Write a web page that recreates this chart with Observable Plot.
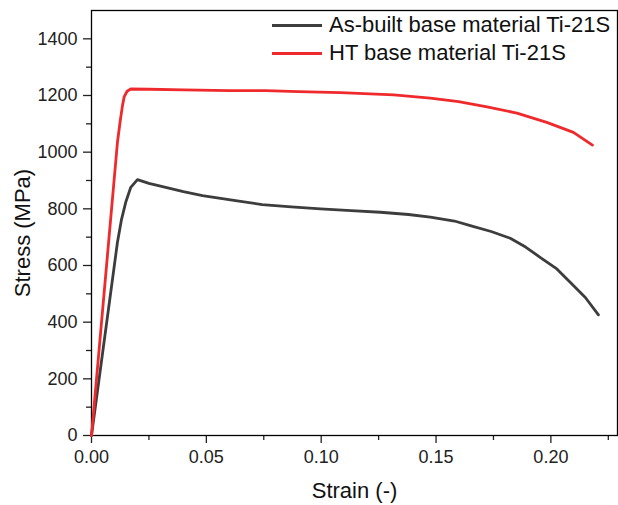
<!DOCTYPE html>
<html><head><meta charset="utf-8">
<script src="https://cdn.jsdelivr.net/npm/d3@7"></script>
<script src="https://cdn.jsdelivr.net/npm/@observablehq/plot@0.6"></script>
<style>
body{margin:0;background:#fff;}
#wrap{position:relative;width:618px;height:505px;font-family:"Liberation Sans",Arial,sans-serif;}
.leg{position:absolute;left:272px;height:28px;display:flex;align-items:center;font-size:22px;color:#111;white-space:nowrap;}
.leg span.sw{display:inline-block;width:50px;height:3px;margin-right:7px;}
</style></head><body><div id="wrap"></div>
<script>
const seriesNames = ["As-built base material Ti-21S", "HT base material Ti-21S"];
const seriesColors = ["#3d3d3d", "#ee2a2d"];

const asBuiltStrain = [0, 0.0113, 0.0130, 0.0149, 0.0171, 0.0200, 0.0250, 0.0323, 0.0400, 0.0483, 0.0627, 0.0743, 0.0870, 0.0997, 0.1130, 0.1258, 0.1380, 0.1475, 0.1580, 0.1649, 0.1740, 0.1823, 0.1890, 0.1953, 0.2026, 0.2084, 0.2150, 0.2207];
const asBuiltStress = [0, 682, 760, 823, 876, 903, 890, 876, 861, 847, 829, 815, 807, 800, 794, 788, 780, 771, 757, 741, 720, 696, 665, 629, 588, 541, 487, 426];

const htStrain = [0, 0.0113, 0.0125, 0.0135, 0.0142, 0.0155, 0.0171, 0.0250, 0.0400, 0.0600, 0.0758, 0.0900, 0.1084, 0.1316, 0.1475, 0.1598, 0.1722, 0.1852, 0.1982, 0.2098, 0.2181];
const htStress = [0, 1035, 1110, 1165, 1195, 1215, 1223, 1222, 1220, 1217, 1217, 1214, 1210, 1202, 1191, 1178, 1160, 1138, 1105, 1070, 1025];

const xMajor = [0, 0.05, 0.10, 0.15, 0.20];
const xMinor = [0.025, 0.075, 0.125, 0.175, 0.225];
const yMajor = [0, 200, 400, 600, 800, 1000, 1200, 1400];
const yMinor = [100, 300, 500, 700, 900, 1100, 1300];

const asBuilt = asBuiltStrain.map((s, i) => ({strain: s, stress: asBuiltStress[i]}));
const ht = htStrain.map((s, i) => ({strain: s, stress: htStress[i]}));

const chart = Plot.plot({
  width: 618, height: 505,
  marginLeft: 91, marginTop: 10, marginRight: 1, marginBottom: 70,
  style: {fontFamily: "Liberation Sans, Arial, sans-serif", fontSize: "18px", color: "#222", background: "white"},
  x: {domain: [0, 0.229]},
  y: {domain: [0, 1500]},
  marks: [
    Plot.axisX({ticks: xMinor, tickSize: 5, tickFormat: () => "", strokeWidth: 1.3, label: null}),
    Plot.axisX({ticks: xMajor, tickSize: 8, tickPadding: 7, tickFormat: d3.format(".2f"), strokeWidth: 1.3, label: null, fill: "#222"}),
    Plot.axisY({ticks: yMinor, tickSize: 5, tickFormat: () => "", strokeWidth: 1.3, label: null}),
    Plot.axisY({ticks: yMajor, tickSize: 8, tickPadding: 6, tickFormat: d3.format("d"), strokeWidth: 1.3, label: null, fill: "#222"}),
    Plot.frame({stroke: "#000", strokeWidth: 1.3}),
    Plot.line(asBuilt, {x: "strain", y: "stress", stroke: seriesColors[0], strokeWidth: 2.8, strokeLinejoin: "round"}),
    Plot.line(ht, {x: "strain", y: "stress", stroke: seriesColors[1], strokeWidth: 2.8, strokeLinejoin: "round"}),
    Plot.text(["Strain (-)"], {frameAnchor: "bottom", dy: 62, fontSize: 22, fill: "#111"}),
    Plot.text(["Stress (MPa)"], {frameAnchor: "left", dx: -69, dy: 10, rotate: -90, textAnchor: "middle", fontSize: 22, fill: "#111"})
  ]
});
const wrap = document.getElementById("wrap");
wrap.appendChild(chart);
seriesNames.forEach((n, i) => {
  const d = document.createElement("div");
  d.className = "leg";
  d.style.top = (11 + i * 28) + "px";
  d.innerHTML = `<span class="sw" style="background:${seriesColors[i]}"></span>${n}`;
  wrap.appendChild(d);
});
</script>
</body></html>
